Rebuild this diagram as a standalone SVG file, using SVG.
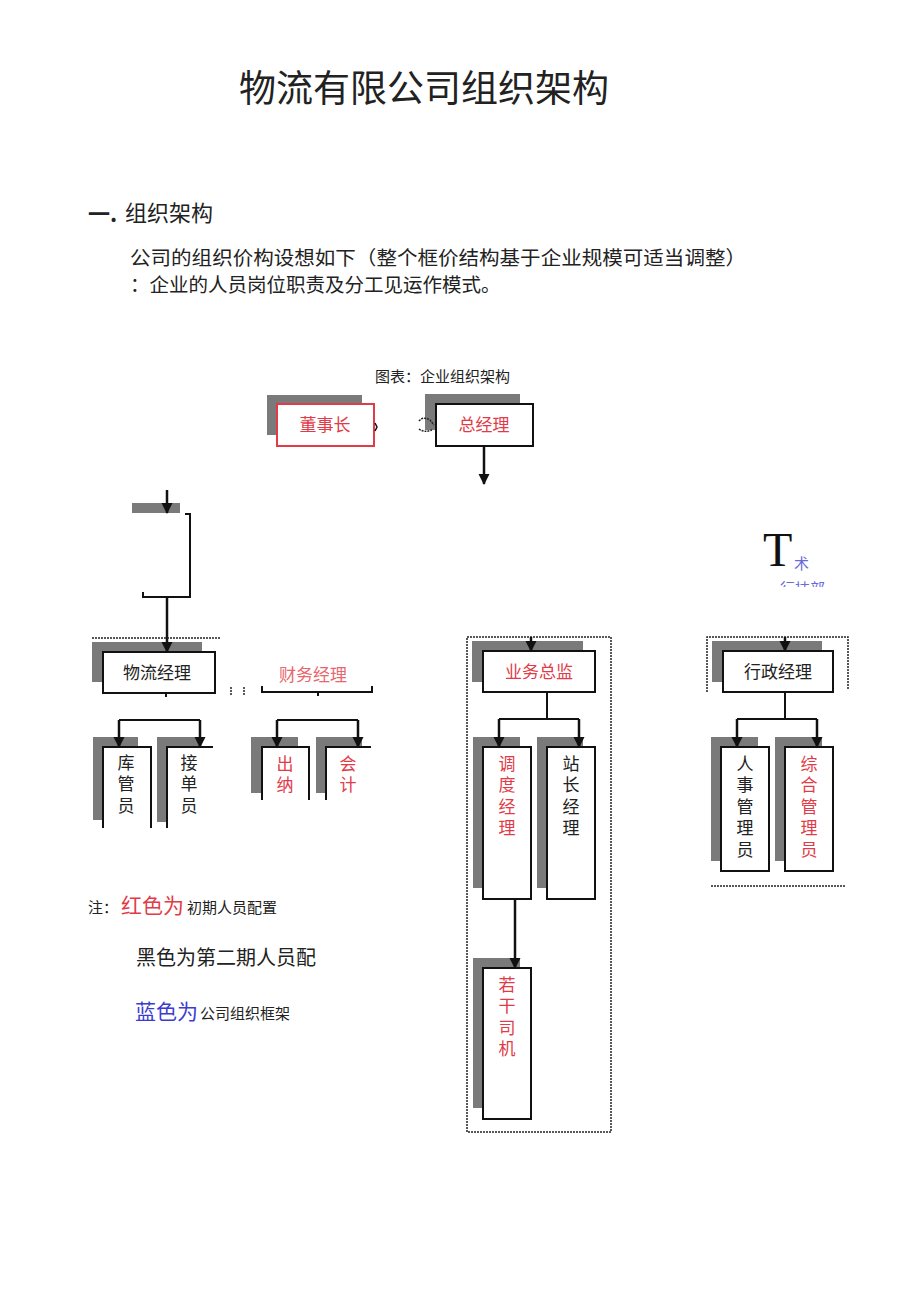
<svg xmlns="http://www.w3.org/2000/svg" width="920" height="1301" viewBox="0 0 920 1301">
<style>
text{font-family:"Noto Sans CJK SC","Liberation Sans",sans-serif;fill:#222}
.sh{fill:#7a7a7a}
.bx{fill:#fff;stroke:#111;stroke-width:2}
.wf{fill:#fff}
.op{fill:none;stroke:#111;stroke-width:2}
.ln{fill:none;stroke:#111;stroke-width:2}
.ar{fill:none;stroke:#111;stroke-width:2.5;marker-end:url(#ah)}
.ds{fill:none;stroke:#222;stroke-width:1.5;stroke-dasharray:2 1}
.red{fill:#e23b48}
.lbl{font-size:17px;text-anchor:middle}
.v{font-size:17px;writing-mode:tb;glyph-orientation-vertical:0;letter-spacing:4.5px}
</style>
<defs>
<marker id="ah" markerWidth="12" markerHeight="12" refX="10" refY="6" orient="auto" markerUnits="userSpaceOnUse"><path d="M0,0.5 L11,6 L0,11.5 Z" fill="#111"/></marker>
<clipPath id="cl"><rect x="770" y="570" width="80" height="17"/></clipPath>
</defs>
<text x="424" y="102" font-size="37" text-anchor="middle">物流有限公司组织架构</text>
<text x="88" y="222" font-size="22" font-weight="bold">一.</text>
<text x="125" y="221" font-size="22">组织架构</text>
<text x="130" y="265" font-size="19.5" textLength="616" lengthAdjust="spacingAndGlyphs">公司的组织价构设想如下（整个框价结构基于企业规模可适当调整）</text>
<text x="130" y="292" font-size="19.5">：企业的人员岗位职责及分工见运作模式。</text>
<text x="375" y="382" font-size="15">图表：企业组织架构</text>
<g id="frames">
<rect class="ds" x="467" y="637" width="144" height="495"/>
<path class="ds" d="M707,692 V637 H848 V690 M711,886 H845"/>
</g>
<g id="n-dongshizhang">
<rect class="sh" x="267" y="395" width="95" height="40"/>
<rect x="277" y="404" width="97" height="42" fill="#fff" stroke="#e23b48" stroke-width="2"/>
<text class="lbl red" x="325" y="431">董事长</text>
</g>
<g id="n-zongjingli">
<rect class="sh" x="425" y="394" width="95" height="36"/>
<rect class="bx" x="436" y="404" width="97" height="42"/>
<text class="lbl red" x="484" y="431">总经理</text>
</g>
<g id="n-wuliu">
<rect class="sh" x="92" y="642" width="110" height="40"/>
<rect class="bx" x="103" y="652" width="112" height="41"/>
<text class="lbl" x="157" y="679">物流经理</text>
</g>
<g id="n-caiwu">
<text class="lbl" x="313" y="681" style="fill:#e8666e">财务经理</text>
</g>
<g id="n-kuguan">
<rect class="sh" x="93" y="737" width="45" height="83"/>
<rect class="wf" x="103" y="747" width="48" height="81"/>
<path class="op" d="M103,828 V747 H151 V828"/>
<text class="v" x="126" y="754">库管员</text>
</g>
<g id="n-jiedan">
<rect class="sh" x="157" y="737" width="43" height="85"/>
<rect class="wf" x="167" y="747" width="46" height="81"/>
<path class="op" d="M167,828 V747 H213"/>
<text class="v" x="189" y="754">接单员</text>
</g>
<g id="n-chuna">
<rect class="sh" x="251" y="737" width="47" height="56"/>
<rect class="wf" x="262" y="747" width="47" height="53"/>
<path class="op" d="M262,800 V747 H309 V800"/>
<text class="v red" x="285" y="755">出纳</text>
</g>
<g id="n-kuaiji">
<rect class="sh" x="316" y="737" width="46" height="56"/>
<rect class="wf" x="326" y="747" width="45" height="53"/>
<path class="op" d="M326,800 V747 H371"/>
<text class="v red" x="348" y="755">会计</text>
</g>
<g id="n-feeder">
<rect class="sh" x="132" y="503" width="48" height="10"/>
</g>
<g id="n-yewu">
<rect class="sh" x="472" y="641" width="111" height="41"/>
<rect class="bx" x="483" y="651" width="112" height="41"/>
<text class="lbl red" x="539" y="678">业务总监</text>
</g>
<g id="n-diaodu">
<rect class="sh" x="473" y="737" width="47" height="151"/>
<rect class="bx" x="483" y="747" width="48" height="152"/>
<text class="v red" x="507" y="755">调度经理</text>
</g>
<g id="n-zhanzhang">
<rect class="sh" x="537" y="737" width="46" height="151"/>
<rect class="bx" x="547" y="747" width="48" height="152"/>
<text class="v" x="571" y="755">站长经理</text>
</g>
<g id="n-siji">
<rect class="sh" x="473" y="958" width="47" height="150"/>
<rect class="bx" x="483" y="968" width="48" height="151"/>
<text class="v red" x="507" y="976">若干司机</text>
</g>
<g id="n-xingzheng">
<rect class="sh" x="712" y="641" width="110" height="41"/>
<rect class="bx" x="723" y="651" width="110" height="41"/>
<text class="lbl" x="778" y="678">行政经理</text>
</g>
<g id="n-renshi">
<rect class="sh" x="711" y="737" width="47" height="124"/>
<rect class="bx" x="721" y="747" width="48" height="124"/>
<text class="v" x="745" y="755">人事管理员</text>
</g>
<g id="n-zonghe">
<rect class="sh" x="775" y="737" width="47" height="124"/>
<rect class="bx" x="785" y="747" width="48" height="124"/>
<text class="v red" x="809" y="755">综合管理员</text>
</g>
<g id="n-jishu">
<text x="763" y="566" font-size="48" style="font-family:'Liberation Serif',serif;fill:#111">T</text>
<text x="794" y="569" font-size="15" style="fill:#6a6ad8">术</text>
<text x="780" y="594" font-size="15" clip-path="url(#cl)" style="fill:#6a6ad8">行技部</text>
</g>
<g id="connectors">
<path class="ar" d="M484,446 V484"/>
<path class="ar" d="M167,490 V513"/>
<path class="ln" d="M185,514 H190 V597 H143 V592"/>
<path class="ar" d="M167,597 V652"/>
<path class="ln" d="M166,693 V697"/>
<path class="ln" d="M119,720 H200"/>
<path class="ar" d="M119,720 V747"/>
<path class="ar" d="M200,720 V747"/>
<path class="ln" d="M262,686 V692 H372 V686 M318,692 V696"/>
<path class="ln" d="M277,720 H358"/>
<path class="ar" d="M277,720 V747"/>
<path class="ar" d="M358,720 V747"/>
<path class="ar" d="M531,637 V651"/>
<path class="ln" d="M547,692 V719 M499,719 H579"/>
<path class="ar" d="M499,719 V747"/>
<path class="ar" d="M579,719 V747"/>
<path class="ar" d="M515,899 V968"/>
<path class="ar" d="M785,637 V651"/>
<path class="ln" d="M785,692 V719 M737,719 H817"/>
<path class="ar" d="M737,719 V747"/>
<path class="ar" d="M817,719 V747"/>
<path class="ds" d="M419,421 Q423,416 430,420 L434,425 M419,429 Q424,433 432,430"/>
<path d="M375,423 L377,427 L375,431" fill="none" stroke="#111" stroke-width="1.5"/>
<path class="ds" d="M92,638 H220"/>
<path class="ds" d="M231,687 V696 M244,687 V696"/>
</g>
<g id="legend">
<text x="88" y="913" font-size="15">注：</text>
<text x="121" y="913" font-size="21" class="red">红色为</text>
<text x="187" y="913" font-size="15">初期人员配置</text>
<text x="136" y="965" font-size="20">黑色为第二期人员配</text>
<text x="135" y="1019" font-size="21" style="fill:#3c3cd0">蓝色为</text>
<text x="200" y="1019" font-size="15">公司组织框架</text>
</g>
</svg>
